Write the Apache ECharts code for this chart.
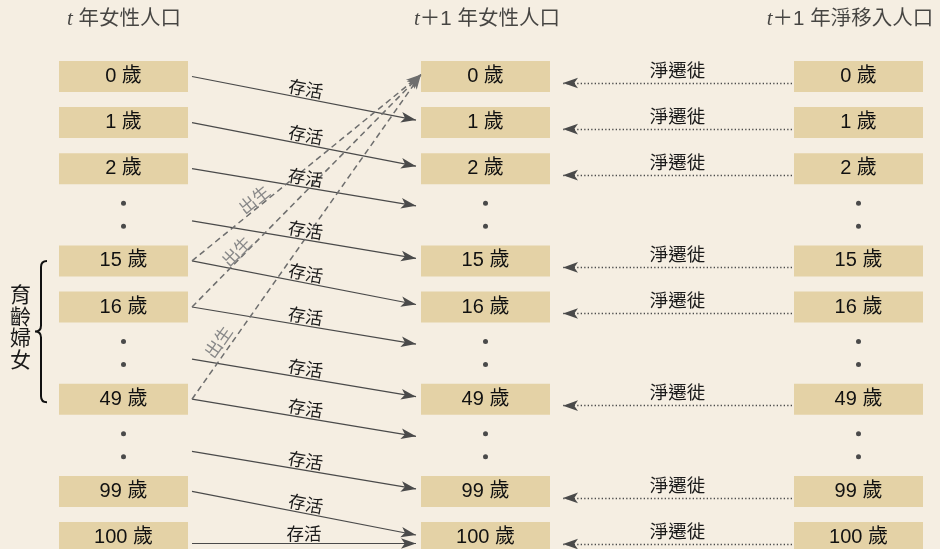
<!DOCTYPE html>
<html>
<head>
<meta charset="utf-8">
<script src="https://cdn.jsdelivr.net/npm/echarts@6/dist/echarts.min.js"></script>
<style>
html,body{margin:0;padding:0;background:#F5EEE2;}
#c{width:940px;height:549px;}
</style>
</head>
<body>
<div id="c"></div>
<script>
// ---------------- data ----------------
// age rows of the cohort-component diagram (null = elided rows shown as dots)
const ageRows = ['0 歲', '1 歲', '2 歲', null, '15 歲', '16 歲', null, '49 歲', null, '99 歲', '100 歲'];
// reproductive-age rows that send births into age 0
const fertileRows = ['15 歲', '16 歲', '49 歲'];
// column headers
const columnHeaders = ['t 年女性人口', 't＋1 年女性人口', 't＋1 年淨移入人口'];
// flow labels
const survivalLabel = '存活';
const birthLabel = '出生';
const migrationLabel = '淨遷徙';
const groupLabel = '育齡婦女';

// ---------------- layout ----------------
const W = 940, H = 549;
const ROW0_PX = 76.5, ROW_STEP_PX = 46.1;
const yMin = -ROW0_PX / ROW_STEP_PX;
const yMax = yMin + H / ROW_STEP_PX;
const px = v => v / ROW_STEP_PX;              // pixel offset -> row units
const colX = [123.5, 485.5, 858.5];
const headerX = [124, 487, 850];
const headerY = yMin + px(19);
const BOX = [129, 31];
const HEAD = [8, 15];                          // arrow head [width, length]
const FONT = "'Liberation Sans', 'Noto Sans CJK TC', 'Noto Sans', sans-serif";
const CJK = "'Noto Sans CJK TC', 'Noto Sans', sans-serif";

const nRows = ageRows.length;
const isGap = i => ageRows[i] === null;
const rowOf = a => ageRows.indexOf(a);

// boxes
const boxData = [];
colX.forEach(x => ageRows.forEach((a, i) => {
  if (a !== null) boxData.push({ name: a, value: [x, i] });
}));
// elision dots
const dotData = [];
colX.forEach(x => ageRows.forEach((a, i) => {
  if (a === null) { dotData.push([x, i - px(11.5)]); dotData.push([x, i + px(11.5)]); }
}));
// survival arrows (arrow tip sits on the line end)
const survData = [];
for (let i = 0; i < nRows - 1; i++) {
  const from = [192, i + (isGap(i) ? px(6) : 0)];
  const tip = [416, i + 1 + (isGap(i + 1) ? px(-9) : px(-2.5))];
  survData.push({ coords: [from, tip] });
}
{
  const last = nRows - 1;
  survData.push({ coords: [[192, last + px(6)], [416, last + px(6)]] });
}
// birth arrows
const birthLabelDist = [[70, 0], [54, -1], [45, 3]];
const birthData = fertileRows.map((a, k) => ({
  coords: [[192, rowOf(a)], [421, 0 - px(2)]],
  label: { distance: birthLabelDist[k] }
}));
// net migration arrows
const migData = [];
ageRows.forEach((a, i) => {
  if (a === null) return;
  migData.push({ coords: [[792, i + px(6.5)], [563, i + px(6.5)]] });
});
// headers
const headerData = columnHeaders.map((h, k) => ({ name: h, value: [headerX[k], headerY] }));

const chart = echarts.init(document.getElementById('c'), null, { renderer: 'canvas', width: W, height: H });
chart.setOption({
  backgroundColor: '#F5EEE2',
  animation: false,
  grid: { left: 0, right: 0, top: 0, bottom: 0, containLabel: false },
  xAxis: { type: 'value', min: 0, max: W, show: false },
  yAxis: { type: 'value', min: yMin, max: yMax, inverse: true, show: false },
  series: [
    {
      type: 'scatter', silent: true, z: 2,
      symbol: 'rect', symbolSize: BOX,
      itemStyle: { color: '#E4D2A6', opacity: 1 },
      label: { show: true, position: 'inside', formatter: '{b}', fontSize: 20, fontFamily: FONT, color: '#111' },
      data: boxData
    },
    {
      type: 'scatter', silent: true, z: 2,
      symbol: 'circle', symbolSize: 5,
      itemStyle: { color: '#4a4a4a', opacity: 1 },
      data: dotData
    },
    {
      type: 'lines', coordinateSystem: 'cartesian2d', silent: true, z: 3,
      symbol: ['none', 'arrow'], symbolSize: [HEAD, HEAD],
      lineStyle: { color: '#4a4a4a', width: 1.2, opacity: 1, curveness: 0 },
      label: { show: true, position: 'middle', formatter: survivalLabel, distance: 1,
               fontSize: 17.5, fontFamily: CJK, color: '#1a1a1a' },
      data: survData
    },
    {
      type: 'lines', coordinateSystem: 'cartesian2d', silent: true, z: 3,
      symbol: ['none', 'arrow'], symbolSize: [HEAD, HEAD],
      lineStyle: { color: '#6e6e6e', width: 1.5, opacity: 1, type: [6, 4], curveness: 0 },
      label: { show: true, position: 'insideStartTop', formatter: birthLabel, distance: [60, 0],
               fontSize: 17, fontFamily: CJK, color: '#888' },
      data: birthData
    },
    {
      type: 'lines', coordinateSystem: 'cartesian2d', silent: true, z: 3,
      symbol: ['none', 'arrow'], symbolSize: [HEAD, HEAD],
      lineStyle: { color: '#4a4a4a', width: 1.3, opacity: 1, type: [1.3, 2.2], curveness: 0 },
      label: { show: true, position: 'middle', formatter: migrationLabel, distance: 4,
               fontSize: 18.5, fontFamily: CJK, color: '#1a1a1a' },
      data: migData
    },
    {
      type: 'scatter', silent: true, z: 4,
      symbolSize: 0,
      label: {
        show: true, position: 'inside',
        formatter: p => '{i|t}{n|' + p.name.slice(1) + '}',
        rich: {
          i: { fontFamily: "'Liberation Serif', 'DejaVu Serif', serif", fontStyle: 'italic', fontSize: 21, color: '#1a1a1a' },
          n: { fontFamily: FONT, fontSize: 20.5, color: '#1a1a1a' }
        }
      },
      data: headerData
    },
    {
      type: 'custom', coordinateSystem: 'cartesian2d', silent: true, z: 4,
      data: [[0, 0]],
      renderItem: (params, api) => {
        const top = api.coord([47, rowOf('15 歲')]);
        const bot = api.coord([47, rowOf('49 歲') + px(3)]);
        const spine = api.coord([41, 0])[0];
        const tipX = api.coord([35, 0])[0];
        const textX = api.coord([20.5, 0])[0];
        const mid = (top[1] + bot[1]) / 2;
        const r = 6;
        const d = `M${top[0]} ${top[1]} Q${spine} ${top[1]} ${spine} ${top[1] + r} ` +
                  `L${spine} ${mid - r} Q${spine} ${mid} ${tipX} ${mid} ` +
                  `Q${spine} ${mid} ${spine} ${mid + r} L${spine} ${bot[1] - r} ` +
                  `Q${spine} ${bot[1]} ${top[0]} ${bot[1]}`;
        return {
          type: 'group',
          children: [
            { type: 'path', shape: { pathData: d }, style: { stroke: '#111', lineWidth: 2, fill: null } },
            { type: 'text', x: textX, y: mid - 5,
              style: { text: groupLabel.split('').join('\n'), fontSize: 21, fontFamily: CJK,
                       fill: '#1a1a1a', align: 'center', verticalAlign: 'middle', lineHeight: 21.5 } }
          ]
        };
      }
    }
  ]
});
</script>
</body>
</html>
